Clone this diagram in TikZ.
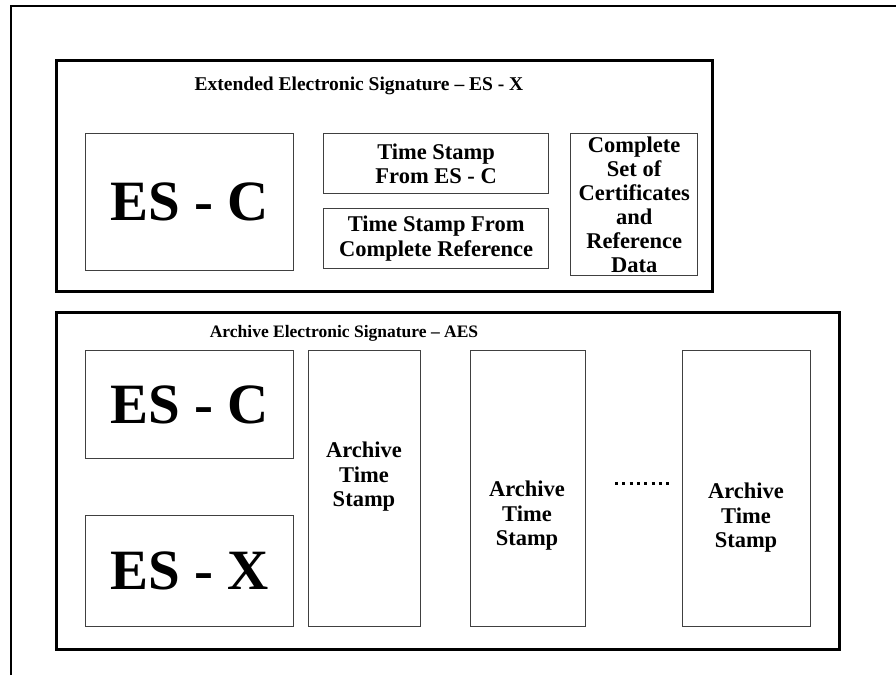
\documentclass[tikz,border=0pt]{standalone}
\usepackage{fontspec}
\setmainfont{Liberation Serif}
\begin{document}
\begin{tikzpicture}[x=1pt,y=-1pt,
  frameline/.style={line width=2pt},
  outerbox/.style={draw, line width=3pt, anchor=north west, inner sep=0pt},
  innerbox/.style={draw=black!75, line width=1.3pt, anchor=north west, inner sep=0pt},
  bigtext/.style={font=\fontsize{57}{60}\selectfont\bfseries},
  bodytext/.style={font=\fontsize{22.5}{24.5}\selectfont\bfseries, align=center, inner sep=0pt},
  headtext/.style={font=\fontsize{19.5}{22}\selectfont\bfseries, inner sep=0pt},
  dotline/.style={line width=3pt, dash pattern=on 3pt off 4.3pt}]
\useasboundingbox (0,0) rectangle (896,675);
\fill[white] (0,0) rectangle (896,675);

% open frame: left and top edges only
\coordinate (fbl) at (11,675);
\coordinate (ftl) at (11,6);
\coordinate (ftr) at (896,6);
\draw[frameline] (fbl) -- (ftl) -- (ftr);

% Extended Electronic Signature ES-X
\node[outerbox, minimum width=656pt, minimum height=231pt] (esx) at (55,59) {};
\node[headtext] (esxtitle) at (359,86) {Extended Electronic Signature -- ES - X};
\node[innerbox, minimum width=208pt, minimum height=137pt, bigtext] (escA) at (85,133) {ES - C};
\node[innerbox, minimum width=225pt, minimum height=60pt] (tsA) at (323,133) {};
\node[bodytext] (tsAtext) at (tsA.center) {Time Stamp\\From ES - C};
\node[innerbox, minimum width=225pt, minimum height=60pt] (tsB) at (323,208) {};
\node[bodytext] (tsBtext) at (tsB.center) {Time Stamp From\\Complete Reference};
\node[innerbox, minimum width=127pt, minimum height=142pt] (cset) at (570,133) {};
\node[bodytext, font=\fontsize{22.5}{24}\selectfont\bfseries] (csettext) at (cset.center)
  {Complete\\Set of\\Certificates\\and\\Reference\\Data};

% Archive Electronic Signature AES
\node[outerbox, minimum width=783pt, minimum height=337pt] (aes) at (55,311) {};
\node[headtext, font=\fontsize{17.5}{20}\selectfont\bfseries] (aestitle) at (344,333)
  {Archive Electronic Signature -- AES};
\node[innerbox, minimum width=208pt, minimum height=108pt, bigtext] (escB) at (85,350) {ES - C};
\node[innerbox, minimum width=208pt, minimum height=111pt, bigtext] (esxB) at (85,515) {ES - X};
\node[innerbox, minimum width=112pt, minimum height=276pt] (atA) at (308,350) {};
\node[bodytext] (atAtext) at (364,477) {Archive\\Time\\Stamp};
\node[innerbox, minimum width=115pt, minimum height=276pt] (atB) at (470,350) {};
\node[bodytext] (atBtext) at (527,516) {Archive\\Time\\Stamp};
\node[innerbox, minimum width=128pt, minimum height=276pt] (atC) at (682,350) {};
\node[bodytext] (atCtext) at (746,518) {Archive\\Time\\Stamp};

% ellipsis between the archive time stamps
\coordinate (dotsL) at (615,483);
\coordinate (dotsR) at (673,483);
\draw[dotline] (dotsL) -- (dotsR);
\end{tikzpicture}
\end{document}
